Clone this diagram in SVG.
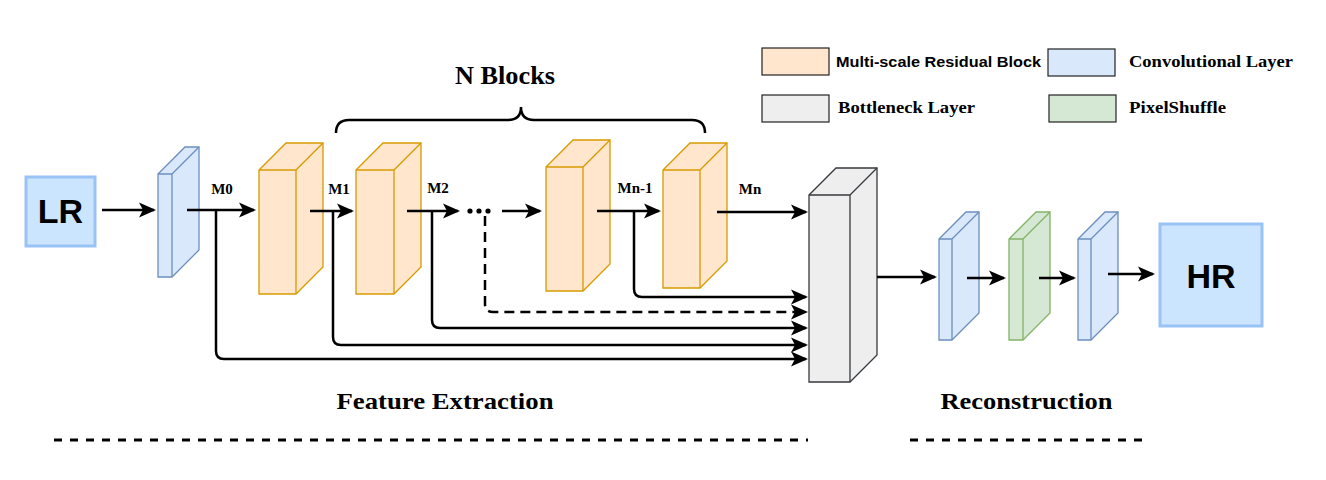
<svg xmlns="http://www.w3.org/2000/svg" width="1326" height="480" viewBox="0 0 1326 480">
<style>
.serif{font-family:"Liberation Serif","Times New Roman",serif;font-weight:bold;fill:#000}
.sans{font-family:"Liberation Sans",Arial,sans-serif;font-weight:bold;fill:#000}
.blue{fill:#dae8fc;stroke:#6c8ebf;stroke-width:1.3}
.orange{fill:#ffe6cc;stroke:#d79b00;stroke-width:1.3}
.gray{fill:#eeeeee;stroke:#36393d;stroke-width:1.3}
.green{fill:#d5e8d4;stroke:#82b366;stroke-width:1.3}
.edge{fill:none}
.io{fill:#cce5ff;stroke:#99c2f5;stroke-width:3}
.lg{stroke:#222;stroke-width:1.2}
.conn path{fill:none;stroke:#000;stroke-width:2.5}
.conn path.arr{marker-end:url(#ah)}
.dash{stroke-dasharray:10 6}
.sep{fill:none;stroke:#000;stroke-width:3;stroke-dasharray:8 8}
</style>
<defs>
<marker id="ah" markerUnits="userSpaceOnUse" markerWidth="18" markerHeight="16" viewBox="0 0 18 16" refX="15" refY="8" orient="auto">
<path d="M0,0.5 L17,8 L0,15.5 L4,8 Z" fill="#000" stroke="none"/>
</marker>
</defs>
<rect width="1326" height="480" fill="#fff"/>

<!-- Legend -->
<g id="legend">
<rect x="762" y="48" width="67" height="27" fill="#ffe6cc" class="lg"/>
<text x="836" y="67" class="sans" font-size="15.5" textLength="205" lengthAdjust="spacingAndGlyphs">Multi-scale Residual Block</text>
<rect x="1048" y="49" width="67" height="27" fill="#dae8fc" class="lg"/>
<text x="1129" y="67" class="serif" font-size="17" textLength="164" lengthAdjust="spacingAndGlyphs">Convolutional Layer</text>
<rect x="762" y="95" width="67" height="27" fill="#eeeeee" class="lg"/>
<text x="838" y="113" class="serif" font-size="17" textLength="137" lengthAdjust="spacingAndGlyphs">Bottleneck Layer</text>
<rect x="1049" y="95" width="67" height="27" fill="#d5e8d4" class="lg"/>
<text x="1129" y="113" class="serif" font-size="17" textLength="97" lengthAdjust="spacingAndGlyphs">PixelShuffle</text>
</g>

<!-- Brace -->
<g id="brace">
<path d="M336,133 Q336,120 349,120 H508 Q521,120 521,107 Q521,120 534,120 H692 Q705,120 705,133" fill="none" stroke="#000" stroke-width="2.5"/>
<text x="505" y="84" class="serif" font-size="25" text-anchor="middle" textLength="100" lengthAdjust="spacingAndGlyphs">N Blocks</text>
</g>

<!-- Nodes -->
<g id="LR">
<rect x="26" y="177" width="69" height="69" class="io"/>
<text x="60.5" y="223" class="sans" font-size="34" text-anchor="middle">LR</text>
</g>

<g id="conv0">
<path class="blue" d="M158,174 L185,147 H199 V250 L172,277 H158 Z"/>
<path class="blue edge" d="M158,174 H172 V277 M172,174 L199,147"/>
</g>

<g id="block1">
<path class="orange" d="M259,170 L286,143 H323 V267 L296,294 H259 Z"/>
<path class="orange edge" d="M259,170 H296 V294 M296,170 L323,143"/>
</g>

<g id="block2">
<path class="orange" d="M356,170 L383,143 H421 V267 L394,294 H356 Z"/>
<path class="orange edge" d="M356,170 H394 V294 M394,170 L421,143"/>
</g>

<g id="block3">
<path class="orange" d="M546,167 L573,140 H610 V264 L583,291 H546 Z"/>
<path class="orange edge" d="M546,167 H583 V291 M583,167 L610,140"/>
</g>

<g id="block4">
<path class="orange" d="M663,170 L690,143 H727 V261 L700,288 H663 Z"/>
<path class="orange edge" d="M663,170 H700 V288 M700,170 L727,143"/>
</g>

<g id="bottleneck">
<path class="gray" d="M809,195 L836,168 H877 V355 L850,382 H809 Z"/>
<path class="gray edge" d="M809,195 H850 V382 M850,195 L877,168"/>
</g>

<g id="conv1">
<path class="blue" d="M939,239 L966,212 H979 V313 L952,340 H939 Z"/>
<path class="blue edge" d="M939,239 H952 V340 M952,239 L979,212"/>
</g>

<g id="pixelshuffle">
<path class="green" d="M1009,239 L1036,212 H1050 V313 L1023,340 H1009 Z"/>
<path class="green edge" d="M1009,239 H1023 V340 M1023,239 L1050,212"/>
</g>

<g id="conv2">
<path class="blue" d="M1078,239 L1105,212 H1118 V313 L1091,340 H1078 Z"/>
<path class="blue edge" d="M1078,239 H1091 V340 M1091,239 L1118,212"/>
</g>

<g id="HR">
<rect x="1160" y="224" width="102" height="102" class="io"/>
<text x="1211" y="288" class="sans" font-size="34" text-anchor="middle">HR</text>
</g>

<!-- Connectors -->
<g id="connectors" class="conn">
<path class="arr" d="M102,210 H154"/>
<path class="arr" d="M187,210 H254"/>
<path class="arr" d="M310,211 H352"/>
<path class="arr" d="M407,211 H458"/>
<path class="arr" d="M502,211 H540"/>
<path class="arr" d="M597,211 H659"/>
<path class="arr" d="M717,212 H806"/>
<path class="arr" d="M216,210 V351 Q216,359 224,359 H806"/>
<path class="arr" d="M333,211 V337 Q333,345 341,345 H806"/>
<path class="arr" d="M432,211 V320 Q432,328 440,328 H806"/>
<path class="arr dash" d="M485,216 V304 Q485,312 493,312 H806"/>
<path class="arr" d="M634,211 V289 Q634,297 642,297 H806"/>
<path class="arr" d="M877,277 H935"/>
<path class="arr" d="M967,278 H1004"/>
<path class="arr" d="M1039,278 H1074"/>
<path class="arr" d="M1108,274 H1153"/>
</g>

<g id="dots" fill="#000">
<circle cx="470" cy="211" r="2.6"/>
<circle cx="479" cy="211" r="2.6"/>
<circle cx="488" cy="211" r="2.6"/>
</g>

<!-- Labels -->
<g id="labels">
<text x="222" y="194" class="serif" font-size="15" text-anchor="middle">M0</text>
<text x="339" y="194" class="serif" font-size="15" text-anchor="middle">M1</text>
<text x="438" y="193" class="serif" font-size="15" text-anchor="middle">M2</text>
<text x="635" y="193" class="serif" font-size="15" text-anchor="middle">Mn-1</text>
<text x="750" y="194" class="serif" font-size="15" text-anchor="middle">Mn</text>
<text x="445" y="409" class="serif" font-size="23" text-anchor="middle" textLength="217" lengthAdjust="spacingAndGlyphs">Feature Extraction</text>
<text x="1026.5" y="409" class="serif" font-size="23" text-anchor="middle" textLength="172" lengthAdjust="spacingAndGlyphs">Reconstruction</text>
</g>

<g id="separators">
<path class="sep" d="M54,440 H808"/>
<path class="sep" d="M910,440 H1146"/>
</g>
</svg>
